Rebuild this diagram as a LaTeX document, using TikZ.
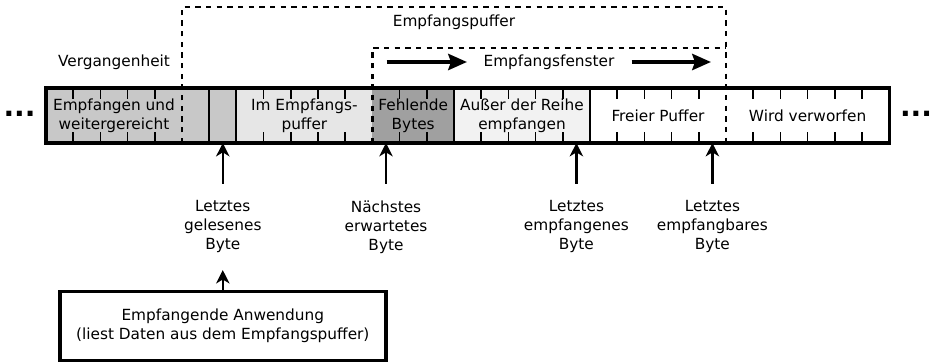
\documentclass[tikz,border=0pt]{standalone}
\usepackage{fontspec}
\setmainfont{DejaVu Sans}
\usetikzlibrary{arrows.meta, positioning}

\definecolor{gonegray}{HTML}{C8C8C8}
\definecolor{bufgray}{HTML}{E6E6E6}
\definecolor{missgray}{HTML}{A0A0A0}
\definecolor{ooogray}{HTML}{F2F2F2}

\newcommand{\cw}{27.2}

\tikzset{
  seg/.style={anchor=west, minimum height=41.25pt, inner sep=0pt, outer sep=0pt, align=center},
  lbl/.style={align=center, inner xsep=2pt, inner ysep=12.5pt},
  ptr/.style={line width=1.8pt, -{Stealth[length=10pt, width=10pt, inset=3pt]}},
  fat/.style={line width=3.5pt, -{Stealth[length=14pt, width=12pt, inset=2pt]}},
  win/.style={line width=1.8pt, dash pattern=on 4pt off 4pt},
}

\begin{document}
\begin{tikzpicture}[x=0.75pt, y=-0.75pt, font=\fontsize{11.5}{14.25}\selectfont]
\useasboundingbox (0,0) rectangle (940,364);

% byte strip
\node[seg, fill=gonegray, minimum width=5*\cw*0.75pt] (gone) at (46,115.5) {Empfangen und\\weitergereicht};
\node[seg, fill=gonegray, minimum width=\cw*0.75pt, right=0pt of gone] (rest) {};
\node[seg, fill=gonegray, minimum width=\cw*0.75pt, right=0pt of rest] (rdcell) {};
\node[seg, fill=bufgray, minimum width=5*\cw*0.75pt, right=0pt of rdcell] (inbuf) {Im Empfangs-\\puffer};
\node[seg, fill=missgray, minimum width=3*\cw*0.75pt, right=0pt of inbuf] (miss) {Fehlende\\Bytes};
\node[seg, fill=ooogray, minimum width=5*\cw*0.75pt, right=0pt of miss] (ooo) {Außer der Reihe\\empfangen};
\node[seg, minimum width=5*\cw*0.75pt, right=0pt of ooo] (free) {Freier Puffer};
\node[seg, minimum width=6*\cw*0.75pt, right=0pt of free] (drop) {Wird verworfen};

\foreach \i in {1,2,3,4,8,9,10,11,13,14,16,17,18,19,21,22,23,24,26,27,28,29,30}
  \draw[line width=1.1pt] (46+\i*\cw,88) -- ++(0,11) (46+\i*\cw,143) -- ++(0,-11);
\foreach \s in {rdcell, inbuf, ooo, free}
  \draw[line width=1.5pt] (\s.north west) -- (\s.south west);
\draw[line width=2.4pt] (gone.north west) rectangle (drop.south east);

\node[font=\fontsize{21}{24}\selectfont\bfseries] (ldots) at (19.5,114) {...};
\node[font=\fontsize{21}{24}\selectfont\bfseries] (rdots) at (916,114) {...};

% buffer and window
\coordinate (buftop) at (0,7);
\coordinate (wintop) at (0,48);
\draw[win] (rest.south west) |- (buftop -| drop.west) -- (drop.south west);
\draw[win] (miss.south west) |- (wintop -| drop.west);

\node (bufname) at (454,22) {Empfangspuffer};
\node (winname) at (549,62) {Empfangsfenster};
\node (pastname) at (114,62) {Vergangenheit};
\coordinate (w1) at (386.5,62);
\coordinate (w2) at (467,62);
\coordinate (w3) at (631.5,62);
\coordinate (w4) at (711,62);
\draw[fat] (w1) -- (w2);
\draw[fat] (w3) -- (w4);

% pointers
\coordinate (lastrd) at (46+6.5*\cw,143);
\coordinate (nxt) at (46+12.5*\cw,143);
\coordinate (lastrcv) at (46+19.5*\cw,143);
\coordinate (lastok) at (46+24.5*\cw,143);
\node[lbl] (lread) at (46+6.5*\cw,227) {Letztes\\gelesenes\\Byte};
\node[lbl] (lnext) at (46+12.5*\cw,227) {Nächstes\\erwartetes\\Byte};
\node[lbl] (lrcv) at (46+19.5*\cw,227) {Letztes\\empfangenes\\Byte};
\node[lbl] (lok) at (46+24.5*\cw,227) {Letztes\\empfangbares\\Byte};
\draw[ptr] (lread.north) -- (lastrd);
\draw[ptr] (lnext.north) -- (nxt);
\draw[ptr] (lrcv.north) -- (lastrcv);
\draw[ptr] (lok.north) -- (lastok);

\node[draw, line width=2.6pt, minimum width=244.5pt, minimum height=51.75pt, align=center] (app) at (46+6.5*\cw,326.2) {Empfangende Anwendung\\(liest Daten aus dem Empfangspuffer)};
\draw[ptr] (app.north) -- (lread.south);
\end{tikzpicture}
\end{document}
